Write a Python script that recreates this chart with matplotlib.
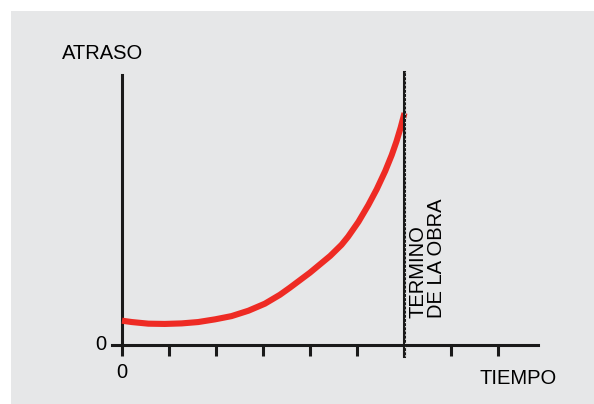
import matplotlib
matplotlib.use('Agg')
import matplotlib.pyplot as plt
from matplotlib.patches import Rectangle

plt.rcParams['font.family'] = ['Liberation Sans', 'DejaVu Sans']

# curve (time in tick units, delay in arbitrary units)
tiempo = [0.0, 0.21, 0.56, 0.91, 1.27, 1.62, 1.98, 2.33, 2.69, 3.04, 3.36, 3.57,
          4.0, 4.43, 4.67, 4.81, 5.03, 5.24, 5.42, 5.60, 5.74, 5.84, 5.93, 6.01]
atraso = [0.90, 0.85, 0.79, 0.78, 0.80, 0.85, 0.95, 1.07, 1.27, 1.53, 1.86, 2.12,
          2.68, 3.30, 3.71, 4.01, 4.56, 5.18, 5.77, 6.44, 7.04, 7.54, 8.06, 8.59]
ticks_x = list(range(9))
fin_obra = 6

bg = '#e6e7e8'
red = '#ee2b24'

fig = plt.figure(figsize=(5.94, 4.04), dpi=100, facecolor='white')
fig.patches.append(Rectangle((11/594, 0), 1, (404-11)/404, transform=fig.transFigure,
                             facecolor=bg, edgecolor='none', zorder=-5))
ax = fig.add_axes([0, 0, 1, 1])
ax.set_zorder(2)
ax.patch.set_visible(False)

# 47 px per x unit, 27 px per y unit
ax.set_xlim(-122/47, (594-122)/47)
ax.set_ylim(-(404-345)/27, 345/27)

ax.plot(tiempo, atraso, color=red, lw=4.4, solid_capstyle='butt',
        solid_joinstyle='round', zorder=3)

# dashed end-of-work line
ax.plot([fin_obra, fin_obra], [-11/27, (345-72)/27], color='#1a1a1a', lw=2.2, zorder=4)
ax.plot([fin_obra + 0.012, fin_obra + 0.012], [-11/27, (345-72)/27], color='white', lw=0.6,
        dashes=(1.5, 3.5), zorder=5)

for s in ['top', 'right']:
    ax.spines[s].set_visible(False)
ax.spines['left'].set_position(('data', 0))
ax.spines['bottom'].set_position(('data', 0))
ax.spines['left'].set_bounds(0, 10)
ax.spines['bottom'].set_bounds(-10/47, (538-122)/47)
for s in ['left', 'bottom']:
    ax.spines[s].set_linewidth(2.2)
    ax.spines[s].set_color('#1a1a1a')
ax.set_yticks([])
ax.set_xticks(ticks_x)
ax.set_xticklabels([])
ax.tick_params(axis='x', direction='out', length=8, width=2.2, color='#1a1a1a')

fs = 14.5
ax.text(-0.34, 0, '0', ha='right', va='center', fontsize=fs)
ax.text(0, -1.0, '0', ha='center', va='center', fontsize=fs)
ax.text((557-122)/47, -(378-345)/27, 'TIEMPO', ha='right', va='center', fontsize=fs)
ax.text(-(122-62)/47, (345-53)/27, 'ATRASO', ha='left', va='center', fontsize=fs)
ax.text(fin_obra + 0.1, (345-318)/27, 'TERMINO\nDE LA OBRA', rotation=90,
        ha='left', va='bottom', fontsize=fs, linespacing=0.95, multialignment='left')

fig.savefig('out.png', dpi=100, facecolor='white')
